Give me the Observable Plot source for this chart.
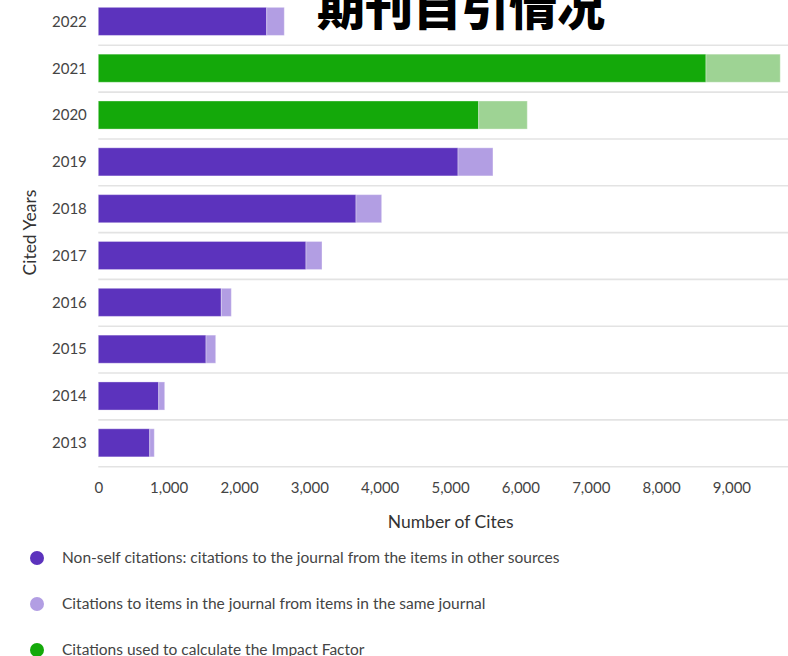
<!DOCTYPE html>
<html>
<head>
<meta charset="utf-8">
<script src="https://cdn.jsdelivr.net/npm/d3@7"></script>
<script src="https://cdn.jsdelivr.net/npm/@observablehq/plot@0.6"></script>
<style>
  html, body { margin: 0; padding: 0; background: #fff; }
  #wrap { position: relative; width: 788px; height: 656px; overflow: hidden; font-family: Lato, "Noto Sans", sans-serif; }
  #chart svg { display: block; margin-top: -30px; }
  #title { position: absolute; left: 317px; top: -20px; font-family: "Noto Sans CJK SC", sans-serif; font-size: 48px; line-height: 1; font-weight: 900; color: #000; white-space: nowrap; z-index: 2; }
  #legend { position: absolute; left: 0; top: 534px; }
  .item { height: 46px; line-height: 46px; font-size: 15.5px; color: #444; white-space: nowrap; }
  .dot { display: inline-block; width: 14px; height: 14px; border-radius: 50%; margin-left: 30px; margin-right: 18px; vertical-align: middle; position: relative; top: -1px; }
</style>
</head>
<body>
<div id="wrap">
  <div id="chart"></div>
  <div id="title"></div>
  <div id="legend"></div>
</div>
<script>
const years = ["2022","2021","2020","2019","2018","2017","2016","2015","2014","2013"];
const nonSelfCites = [2394, 8638, 5407, 5113, 3663, 2952, 1748, 1531, 859, 731];
const selfCites = [250, 1056, 691, 497, 365, 228, 143, 138, 85, 65];
const impactYears = ["2021","2020"];
const xTicks = [0,1000,2000,3000,4000,5000,6000,7000,8000,9000];
const kinds = ["nonself","self","ifmain","ifself"];
const kindColors = ["#5c33bd","#b29ee3","#14a90a","#9ed394"];
const legendLabels = [
  "Non-self citations: citations to the journal from the items in other sources",
  "Citations to items in the journal from items in the same journal",
  "Citations used to calculate the Impact Factor"
];
const legendColors = ["#5c33bd","#b29ee3","#14a90a"];
const titleText = "期刊自引情况";
const xLabel = "Number of Cites";
const yLabel = "Cited Years";
const xMax = 9804;

const rows = years.flatMap((y, i) => {
  const inIF = impactYears.includes(y);
  return [
    {year: y, kind: inIF ? "ifmain" : "nonself", value: nonSelfCites[i]},
    {year: y, kind: inIF ? "ifself" : "self", value: selfCites[i]}
  ];
});

const chart = Plot.plot({
  width: 788,
  height: 570,
  marginLeft: 98.3,
  marginRight: 0,
  marginTop: 18.6,
  marginBottom: 64.4,
  style: {fontFamily: "Lato, 'Noto Sans', sans-serif", fontSize: "15px", color: "#444", background: "transparent"},
  x: {domain: [0, xMax], ticks: xTicks, tickFormat: d3.format(","), tickSize: 0, tickPadding: 6, label: null},
  y: {domain: years, padding: 0.4, round: false, tickSize: 0, tickPadding: 12, label: null},
  color: {type: "ordinal", domain: kinds, range: kindColors},
  marks: [
    Plot.ruleY(years, {y: d => d, dy: 23.4, x1: 0, x2: xMax, stroke: "#e3e3e3", strokeWidth: 1.6}),
    Plot.barX(rows, Plot.stackX({x: "value", y: "year", fill: "kind", stroke: "white", strokeOpacity: 0.35, strokeWidth: 1})),
    Plot.text([xLabel], {frameAnchor: "bottom", lineAnchor: "middle", textAnchor: "middle", dx: 7, dy: 46.4, fontSize: 17.5, fill: "#333"}),
    Plot.text([yLabel], {frameAnchor: "left", lineAnchor: "middle", textAnchor: "middle", dx: -68, rotate: -90, fontSize: 17.5, fill: "#333"})
  ]
});
document.getElementById("chart").appendChild(chart);
document.getElementById("title").textContent = titleText;

const legend = document.getElementById("legend");
legendLabels.forEach((t, i) => {
  const d = document.createElement("div");
  d.className = "item";
  const s = document.createElement("span");
  s.className = "dot";
  s.style.background = legendColors[i];
  d.appendChild(s);
  d.appendChild(document.createTextNode(t));
  legend.appendChild(d);
});
</script>
</body>
</html>
